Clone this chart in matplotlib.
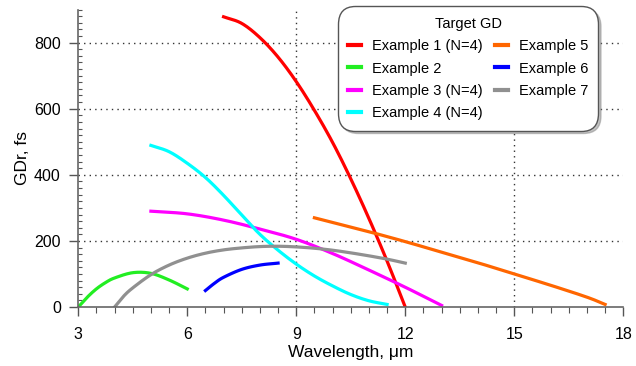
import matplotlib
matplotlib.use('Agg')
import matplotlib.pyplot as plt
from matplotlib.ticker import MultipleLocator
import numpy as np

plt.rcParams['font.family'] = ['Liberation Sans', 'DejaVu Sans']

# curves (wavelength in um, GD in fs)
ex1_x = [7, 7.5, 8, 8.5, 9, 9.5, 10, 10.5, 11, 11.5, 12]
ex1_y = [878, 858, 815, 756, 682, 595, 498, 388, 268, 139, 0]

ex2_x = [3, 3.25, 3.5, 3.75, 4, 4.5, 5, 5.5, 6]
ex2_y = [0, 30, 55, 74, 88, 104, 102, 82, 55]

ex3_x = [5, 6, 7, 8, 9, 10, 11, 12, 13]
ex3_y = [290, 282, 263, 236, 205, 162, 112, 60, 5]

ex4_x = [5, 5.5, 6, 6.5, 7, 7.5, 8, 8.5, 9, 9.5, 10, 10.5, 11, 11.5]
ex4_y = [489, 470, 435, 392, 338, 278, 220, 172, 130, 94, 64, 38, 19, 8]

ex5_x = [9.5, 10, 11, 12, 13, 14, 15, 16, 17, 17.5]
ex5_y = [270, 256, 228, 198, 166, 134, 100, 66, 30, 8]

ex6_x = [6.5, 6.75, 7, 7.5, 8, 8.5]
ex6_y = [50, 72, 90, 114, 127, 133]

ex7_x = [4, 4.25, 4.5, 5, 5.5, 6, 6.5, 7, 7.5, 8, 8.5, 9, 9.5, 10, 10.5, 11, 11.5, 12]
ex7_y = [0, 33, 58, 98, 127, 148, 163, 173, 179, 183, 184, 182, 178, 172, 164, 155, 145, 133]

labels = ['Example 1 (N=4)', 'Example 2', 'Example 3 (N=4)', 'Example 4 (N=4)',
          'Example 5', 'Example 6', 'Example 7']
colors = ['#ff0000', '#22ee22', '#ff00ff', '#00ffff', '#ff6600', '#0000ff', '#909090']
series = [(ex1_x, ex1_y), (ex2_x, ex2_y), (ex3_x, ex3_y), (ex4_x, ex4_y),
          (ex5_x, ex5_y), (ex6_x, ex6_y), (ex7_x, ex7_y)]


# Catmull-Rom through the read points so the lines come out smooth
def smooth(x, y, n=20):
    p = np.column_stack([x, y]).astype(float)
    p = np.vstack([2 * p[0] - p[1], p, 2 * p[-1] - p[-2]])
    t = np.linspace(0, 1, n, endpoint=False)[:, None]
    out = []
    for i in range(1, len(p) - 2):
        p0, p1, p2, p3 = p[i - 1], p[i], p[i + 1], p[i + 2]
        out.append(0.5 * (2 * p1 + (p2 - p0) * t + (2 * p0 - 5 * p1 + 4 * p2 - p3) * t ** 2
                          + (3 * p1 - p0 - 3 * p2 + p3) * t ** 3))
    out.append(p[-2][None, :])
    out = np.vstack(out)
    return out[:, 0], out[:, 1]


fig = plt.figure(figsize=(6.36, 3.66), dpi=100)
ax = fig.add_axes([0.123, 0.161, 0.857, 0.813])

for (x, y), c, lab in zip(series, colors, labels):
    xs, ys = smooth(x, y)
    ax.plot(xs, ys, color=c, lw=2.3, label=lab)

ax.set_xlim(3, 18)
ax.set_ylim(0, 900)
ax.xaxis.set_major_locator(MultipleLocator(3))
ax.xaxis.set_minor_locator(MultipleLocator(0.5))
ax.yaxis.set_major_locator(MultipleLocator(200))
ax.yaxis.set_minor_locator(MultipleLocator(20))

for g in [9, 15]:
    ax.axvline(g, color='#333333', ls=(0, (1, 3)), lw=1.0, zorder=0)
for g in [200, 400, 600, 800]:
    ax.axhline(g, color='#333333', ls=(0, (1, 3)), lw=1.0, zorder=0)

for s in ['top', 'right']:
    ax.spines[s].set_visible(False)
for s in ['left', 'bottom']:
    ax.spines[s].set_color('#666666')
    ax.spines[s].set_linewidth(1.2)

ax.tick_params(which='major', length=6.5, width=1, color='#555555', labelsize=11.5)
ax.tick_params(axis='x', which='major', pad=8)
ax.tick_params(axis='y', which='major', pad=6)
ax.tick_params(axis='x', which='minor', length=4, width=0.8, color='#555555')
ax.tick_params(axis='y', which='minor', length=3, width=0.8, color='#555555', direction='in')

ax.set_xlabel('Wavelength, \u03bcm', fontsize=12.5, labelpad=2)
ax.set_ylabel('GDr, fs', fontsize=12.5, labelpad=3)

leg = ax.legend(title='Target GD', ncol=2, loc='upper right', bbox_to_anchor=(0.962, 1.025),
                fontsize=10.5, title_fontsize=10.5, frameon=True, fancybox=True,
                handlelength=0.9, handletextpad=0.7, columnspacing=0.9,
                labelspacing=0.58, borderpad=0.5, framealpha=1,
                shadow={'ox': 2, 'oy': -2, 'color': '#888888'})
leg.get_frame().set_edgecolor('#555555')
leg.get_frame().set_linewidth(1.0)
leg.get_frame().set_boxstyle('round', pad=0.2, rounding_size=1.2)
for line in leg.get_lines():
    line.set_linewidth(3)

fig.savefig('out.png', dpi=100)
